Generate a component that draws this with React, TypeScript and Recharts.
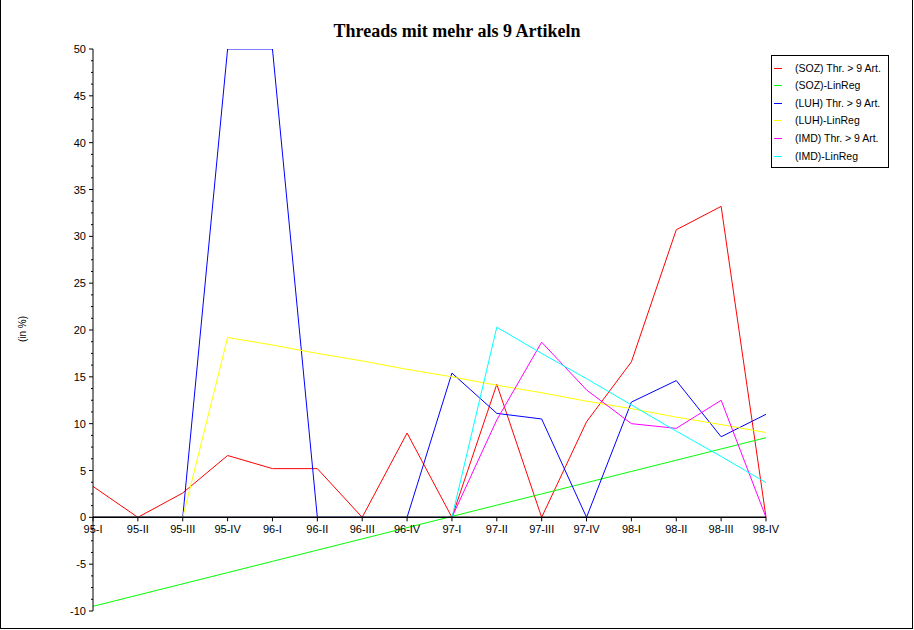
import { Line, LineChart, ReferenceLine, XAxis, YAxis } from 'recharts';

const QUARTERS = ['95-I', '95-II', '95-III', '95-IV', '96-I', '96-II', '96-III', '96-IV', '97-I', '97-II', '97-III', '97-IV', '98-I', '98-II', '98-III', '98-IV'];

const SOZ_THREADS = [3.3, 0, 2.6, 6.6, 5.2, 5.2, 0, 9.0, 0, 14.2, 0, 10.2, 16.6, 30.7, 33.2, 0];
const SOZ_LINREG = [-9.5, -8.3, -7.1, -5.9, -4.7, -3.5, -2.3, -1.1, 0.1, 1.3, 2.5, 3.7, 4.9, 6.1, 7.3, 8.5];
const LUH_THREADS = [0, 0, 0, 50, 50, 0, 0, 0, 15.4, 11.1, 10.5, 0, 12.3, 14.6, 8.6, 11.0];
const LUH_LINREG = [0, 0, 0, 19.2, 18.4, 17.5, 16.7, 15.8, 15.0, 14.1, 13.3, 12.4, 11.6, 10.7, 9.9, 9.05];
const IMD_THREADS = [0, 0, 0, 0, 0, 0, 0, 0, 0, 10.4, 18.7, 13.6, 10.0, 9.5, 12.5, 0];
const IMD_LINREG = [0, 0, 0, 0, 0, 0, 0, 0, 0, 20.3, 17.5, 14.8, 12.0, 9.2, 6.5, 3.7];

const MAJOR_TICKS = [-10, -5, 0, 5, 10, 15, 20, 25, 30, 35, 40, 45, 50];

const SERIES = [
  { key: 'soz', name: '(SOZ) Thr. > 9 Art.', color: '#ff0000', values: SOZ_THREADS },
  { key: 'sozReg', name: '(SOZ)-LinReg', color: '#00ff00', values: SOZ_LINREG },
  { key: 'luh', name: '(LUH) Thr. > 9 Art.', color: '#0000ff', values: LUH_THREADS },
  { key: 'luhReg', name: '(LUH)-LinReg', color: '#ffff00', values: LUH_LINREG },
  { key: 'imd', name: '(IMD) Thr. > 9 Art.', color: '#ff00ff', values: IMD_THREADS },
  { key: 'imdReg', name: '(IMD)-LinReg', color: '#00ffff', values: IMD_LINREG },
];

const data = QUARTERS.map((quarter, i) => {
  const row: Record<string, string | number> = { quarter };
  SERIES.forEach((s) => {
    row[s.key] = s.values[i];
  });
  return row;
});

// layout
const W = 914;
const H = 630;
const LEFT = 93;
const RIGHT = 766;
const TOP = 49;
const BOTTOM = 611;
const Y_MIN = -10;
const Y_MAX = 50;
const ZERO_Y = TOP + ((BOTTOM - TOP) * Y_MAX) / (Y_MAX - Y_MIN);

// quarter-step minor ticks between the major ones
const ALL_TICKS: number[] = [];
for (let v = Y_MIN; v <= Y_MAX; v += 1.25) ALL_TICKS.push(v);

const FONT = '"Liberation Sans", Arial, sans-serif';

const YTick = (props: any) => {
  const { y, payload } = props;
  const major = MAJOR_TICKS.includes(payload.value);
  return (
    <g>
      <line x1={LEFT - (major ? 4 : 2)} x2={LEFT} y1={y} y2={y} stroke="#000" />
      {major && (
        <text x={LEFT - 7} y={y} dy={4} textAnchor="end" fontSize={11} fontFamily={FONT} fill="#000">
          {payload.value}
        </text>
      )}
    </g>
  );
};

const XTick = (props: any) => {
  const { x, payload } = props;
  return (
    <g>
      <line x1={x} x2={x} y1={ZERO_Y} y2={ZERO_Y + 4} stroke="#000" />
      <text x={x} y={ZERO_Y + 16} textAnchor="middle" fontSize={11} fontFamily={FONT} fill="#000">
        {payload.value}
      </text>
    </g>
  );
};

const LegendBox = () => (
  <svg width={118} height={113} style={{ position: 'absolute', left: 771, top: 55 }}>
    <rect x={0.5} y={0.5} width={117} height={112} fill="#fff" stroke="#000" />
    {SERIES.map((s, i) => {
      const cy = 12.5 + i * 17.6;
      return (
        <g key={s.key}>
          <line x1={3} x2={11} y1={Math.round(cy) + 0.5} y2={Math.round(cy) + 0.5} stroke={s.color} />
          <text x={24} y={cy + 4} fontSize={10.5} fontFamily={FONT} fill="#000">
            {s.name}
          </text>
        </g>
      );
    })}
  </svg>
);

export default function App() {
  return (
    <div style={{ position: 'absolute', left: 0, top: 0, width: W, height: H, background: '#fff' }}>
      <div
        style={{
          position: 'absolute',
          left: 0,
          top: 0,
          width: 913,
          height: 629,
          boxSizing: 'border-box',
          borderLeft: '1px solid #000',
          borderRight: '1px solid #000',
          borderBottom: '1px solid #000',
        }}
      />
      <div
        style={{
          position: 'absolute',
          left: 0,
          width: W,
          top: 21,
          textAlign: 'center',
          fontFamily: '"Liberation Serif", "Times New Roman", serif',
          fontWeight: 'bold',
          fontSize: 18,
          color: '#000',
        }}
      >
        Threads mit mehr als 9 Artikeln
      </div>
      <div
        style={{
          position: 'absolute',
          left: 22,
          top: 329,
          transform: 'translate(-50%, -50%) rotate(-90deg)',
          fontFamily: FONT,
          fontSize: 10,
          whiteSpace: 'nowrap',
        }}
      >
        (in %)
      </div>
      <LineChart
        width={W}
        height={H}
        data={data}
        margin={{ top: TOP, right: W - RIGHT, bottom: 0, left: LEFT - 60 }}
        style={{ position: 'absolute', left: 0, top: 0 }}
      >
        <XAxis
          dataKey="quarter"
          height={H - BOTTOM}
          axisLine={false}
          tickLine={false}
          interval={0}
          tick={<XTick />}
        />
        <YAxis
          width={60}
          type="number"
          domain={[Y_MIN, Y_MAX]}
          ticks={ALL_TICKS}
          interval={0}
          allowDataOverflow
          tickLine={false}
          axisLine={{ stroke: '#000' }}
          tick={<YTick />}
        />
        {SERIES.map((s) => (
          <Line
            key={s.key}
            type="linear"
            dataKey={s.key}
            name={s.name}
            stroke={s.color}
            strokeWidth={1}
            dot={false}
            activeDot={false}
            isAnimationActive={false}
          />
        ))}
        <ReferenceLine y={0} stroke="#000" strokeWidth={1.5} />
      </LineChart>
      <LegendBox />
    </div>
  );
}
